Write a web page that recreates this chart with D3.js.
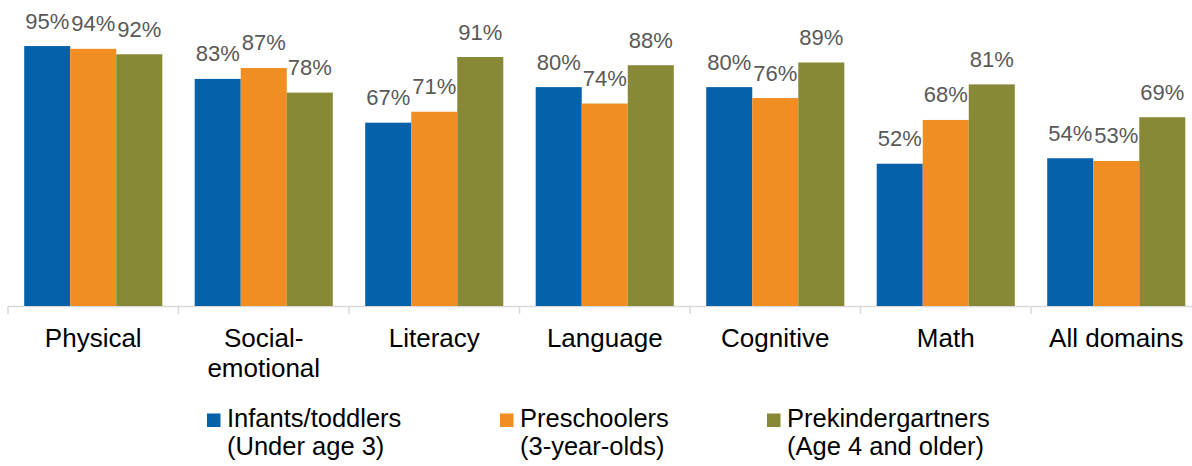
<!DOCTYPE html>
<html>
<head>
<meta charset="utf-8">
<script src="https://cdn.jsdelivr.net/npm/d3@7"></script>
<style>
  body { margin: 0; background: #fff; }
  svg { display: block; font-family: "Liberation Sans", Arial, sans-serif; }
</style>
</head>
<body>
<div id="chart"></div>
<script>
const categories = ["Physical", "Social-emotional", "Literacy", "Language", "Cognitive", "Math", "All domains"]
const seriesNames = ["Infants/toddlers", "Preschoolers", "Prekindergartners"]
const seriesSub = ["(Under age 3)", "(3-year-olds)", "(Age 4 and older)"]
const infants = [95, 83, 67, 80, 80, 52, 54]
const preschoolers = [94, 87, 71, 74, 76, 68, 53]
const prek = [92, 78, 91, 88, 89, 81, 69]
const colors = ["#0461AA", "#F08D23", "#878937"]

const size = [1192, 466]
const baseY = 306

const seriesValues = [infants, preschoolers, prek]
const rows = categories.map((c, i) => ({cat: c, vals: seriesValues.map(s => s[i])}))

const svg = d3.select("#chart").append("svg")
  .attr("width", size[0])
  .attr("height", size[1])

const x = d3.scaleBand()
  .domain(categories)
  .range([8, 1201.5])
  .paddingInner(0.19)
  .paddingOuter(0.095)

const xs = d3.scaleBand()
  .domain(d3.range(seriesNames.length))
  .range([0, x.bandwidth()])

const y = d3.scaleLinear()
  .domain([0, 100])
  .range([baseY, baseY - 273.6])

// axis: line + tick marks at band boundaries
const step = x.step()
const axisG = svg.append("g")
axisG.append("line")
  .attr("x1", 8).attr("x2", size[0])
  .attr("y1", baseY + 0.5).attr("y2", baseY + 0.5)
  .attr("stroke", "#d9d9d9").attr("stroke-width", 1.5)
axisG.selectAll(".tk")
  .data(d3.range(categories.length + 1))
  .join("line")
    .attr("x1", i => 8 + i * step).attr("x2", i => 8 + i * step)
    .attr("y1", baseY).attr("y2", baseY + 8)
    .attr("stroke", "#d9d9d9").attr("stroke-width", 1.5)

const groups = svg.append("g")
  .selectAll("g")
  .data(rows)
  .join("g")
    .attr("transform", d => `translate(${x(d.cat)},0)`)

groups.selectAll("rect")
  .data(d => d.vals)
  .join("rect")
    .attr("x", (v, i) => xs(i))
    .attr("width", xs.bandwidth())
    .attr("y", v => y(v))
    .attr("height", v => baseY - y(v))
    .attr("fill", (v, i) => colors[i])

groups.selectAll("text")
  .data(d => d.vals)
  .join("text")
    .attr("x", (v, i) => xs(i) + xs.bandwidth() / 2)
    .attr("y", v => y(v) - 17.5)
    .attr("text-anchor", "middle")
    .attr("font-size", 22)
    .attr("fill", "#595959")
    .text(v => v + "%")

// category labels (wrap after hyphen)
svg.append("g")
  .selectAll("text")
  .data(categories)
  .join("text")
    .attr("x", d => x(d) + x.bandwidth() / 2)
    .attr("y", 346.5)
    .attr("text-anchor", "middle")
    .attr("font-size", 26)
    .attr("fill", "#000")
    .each(function(d) {
      const parts = d.includes("-") ? [d.slice(0, d.indexOf("-") + 1), d.slice(d.indexOf("-") + 1)] : [d]
      d3.select(this).selectAll("tspan")
        .data(parts)
        .join("tspan")
          .attr("x", x(d) + x.bandwidth() / 2)
          .attr("dy", (p, i) => i === 0 ? 0 : 30)
          .text(p => p)
    })

// legend
const legendX = [207, 500, 767]
const legend = svg.append("g")
  .selectAll("g")
  .data(seriesNames)
  .join("g")
    .attr("transform", (d, i) => `translate(${legendX[i]},0)`)

legend.append("rect")
  .attr("x", 0).attr("y", 413.5)
  .attr("width", 13.5).attr("height", 13.5)
  .attr("fill", (d, i) => colors[i])

legend.append("text")
  .attr("x", 20).attr("y", 427)
  .attr("font-size", 25.5)
  .attr("fill", "#000")
  .text(d => d)

legend.append("text")
  .attr("x", 20).attr("y", 455)
  .attr("font-size", 25.5)
  .attr("fill", "#000")
  .text((d, i) => seriesSub[i])
</script>
</body>
</html>
